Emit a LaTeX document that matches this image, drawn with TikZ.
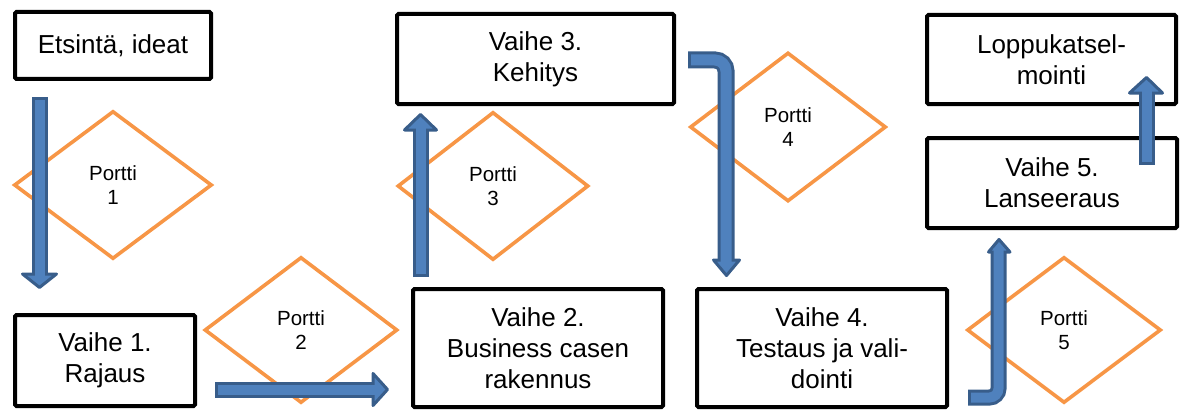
\documentclass[tikz,border=0pt]{standalone}
\usepackage{fontspec}
\setmainfont{Liberation Sans}
\usetikzlibrary{shapes.geometric}
\definecolor{arrdark}{HTML}{385D8A}
\definecolor{arrfill}{HTML}{4F81BD}
\definecolor{gateor}{HTML}{F79646}
\begin{document}
\begin{tikzpicture}[x=1pt,y=-1pt,
  stagebox/.style={draw=black, line width=4pt, rounded corners=1.5pt, fill=white,
    rectangle, align=center, inner sep=0pt,
    font=\fontsize{26}{31}\selectfont},
  gate/.style={draw=gateor, line width=3.6pt, diamond, align=center, inner sep=0pt,
    font=\fontsize{20.5}{24}\selectfont},
  shaftout/.style={draw=arrdark, line width=#1},
  shaftout/.default=16pt,
  shaftin/.style={draw=arrfill, line width=#1},
  shaftin/.default=10pt,
  arrhead/.style={fill=arrfill, draw=arrdark, line width=3pt, line join=round},
]
\useasboundingbox (0,0) rectangle (1186,412);

% stage boxes
\node[stagebox, minimum width=196pt, minimum height=67pt] (etsinta) at (113,45.5) {\raisebox{3pt}{Etsintä, ideat}};
\node[stagebox, minimum width=180pt, minimum height=91pt] (vaihe1) at (105,360.5) {Vaihe 1.\\Rajaus};
\node[stagebox, minimum width=250pt, minimum height=118pt] (vaihe2) at (538,348) {Vaihe 2.\\Business casen\\rakennus};
\node[stagebox, minimum width=277pt, minimum height=90pt] (vaihe3) at (535.5,59) {Vaihe 3.\\Kehitys};
\node[stagebox, minimum width=250pt, minimum height=118pt] (vaihe4) at (822,348) {Vaihe 4.\\Testaus ja vali-\\dointi};
\node[stagebox, minimum width=250pt, minimum height=90pt] (vaihe5) at (1052,183) {Vaihe 5.\\Lanseeraus};
\node[stagebox, minimum width=249pt, minimum height=89pt] (loppu) at (1051.5,59.5) {Loppukatsel-\\mointi};

% gates
\node[gate, minimum width=198pt, minimum height=148pt] (portti1) at (113,185) {Portti\\1};
\node[gate, minimum width=193pt, minimum height=146pt] (portti2) at (301,330) {Portti\\2};
\node[gate, minimum width=191pt, minimum height=148pt] (portti3) at (493,186) {Portti\\3};
\node[gate, minimum width=196pt, minimum height=149pt] (portti4) at (788,127) {Portti\\4};
\node[gate, minimum width=194pt, minimum height=146pt] (portti5) at (1064,330) {Portti\\5};

% arrow end points
\coordinate (a1s) at (39.5,97);   \coordinate (a1e) at (39.5,274);
\coordinate (a2s) at (215,389.5); \coordinate (a2e) at (373,389.5);
\coordinate (a3s) at (420.5,277); \coordinate (a3e) at (420.5,130);
\coordinate (a4s) at (688,60);    \coordinate (a4c) at (726,60);  \coordinate (a4e) at (726,260);
\coordinate (a5s) at (968,397.5); \coordinate (a5c) at (998.5,397.5); \coordinate (a5e) at (998.5,252);
\coordinate (a6s) at (1146.5,165); \coordinate (a6e) at (1146.5,93);

% Etsintä -> Vaihe 1
\draw[shaftout] (a1s) -- (a1e);
\filldraw[arrhead] (22.5,274) -- (39.5,287.5) -- (56.5,274) -- cycle;
\draw[shaftin] ([yshift=-3pt]a1s) -- ([yshift=-5pt]a1e);

% Vaihe 1 -> Vaihe 2
\draw[shaftout] (a2s) -- (a2e);
\filldraw[arrhead] (373,373.5) -- (387.5,389.5) -- (373,405.5) -- cycle;
\draw[shaftin] ([xshift=3pt]a2s) -- ([xshift=4pt]a2e);

% Vaihe 2 -> Vaihe 3
\draw[shaftout] (a3s) -- (a3e);
\filldraw[arrhead] (404.5,130) -- (420.5,114.5) -- (436.5,130) -- cycle;
\draw[shaftin] ([yshift=3pt]a3s) -- ([yshift=4pt]a3e);

% Vaihe 3 -> Vaihe 4
\draw[shaftout=17pt, rounded corners=11pt] (a4s) -- (a4c) -- (a4e);
\filldraw[arrhead] (713.5,260) -- (726.5,275.5) -- (739.5,260) -- cycle;
\draw[shaftin=11pt, rounded corners=11pt] ([xshift=3pt]a4s) -- (a4c) -- ([yshift=-4pt]a4e);

% Vaihe 4 -> Vaihe 5
\draw[shaftout, rounded corners=9pt] (a5s) -- (a5c) -- (a5e);
\filldraw[arrhead] (988.5,252) -- (999,239.5) -- (1010,252) -- cycle;
\draw[shaftin, rounded corners=9pt] ([xshift=3pt]a5s) -- (a5c) -- ([yshift=4pt]a5e);

% Vaihe 5 -> Loppukatselmointi
\draw[shaftout] (a6s) -- (a6e);
\filldraw[arrhead] (1129.5,93) -- (1146.5,77.5) -- (1162.5,93) -- cycle;
\draw[shaftin] ([yshift=3pt]a6s) -- ([yshift=4pt]a6e);
\end{tikzpicture}
\end{document}
